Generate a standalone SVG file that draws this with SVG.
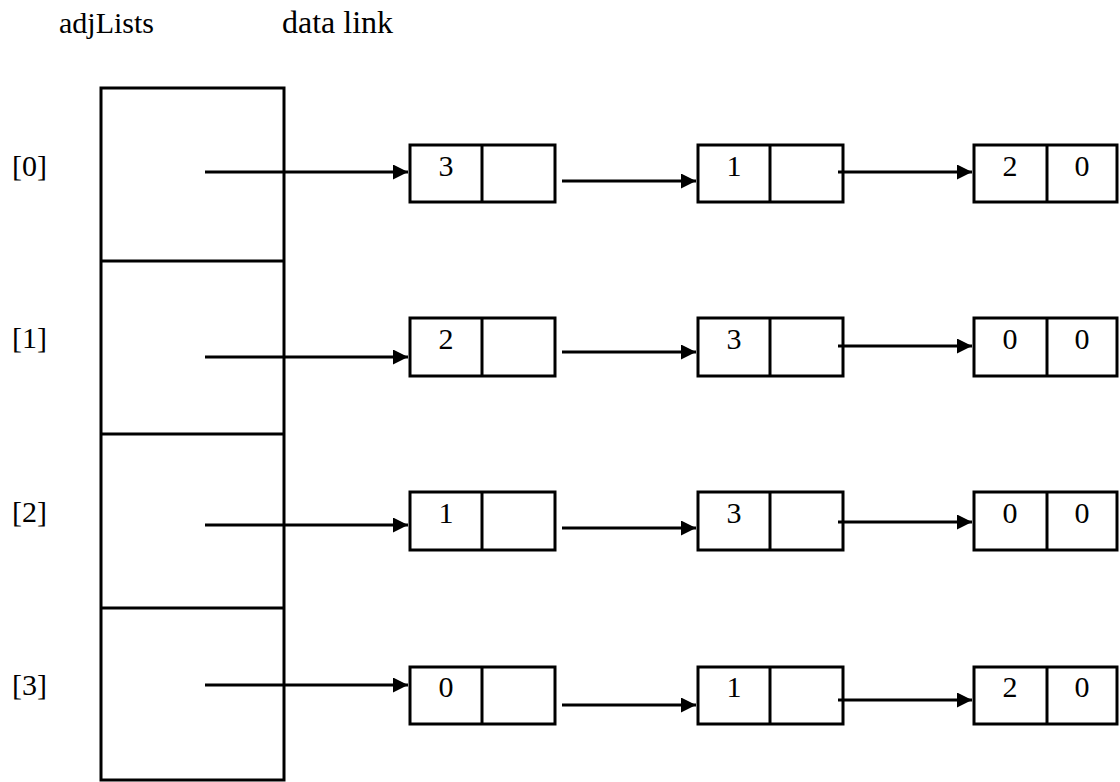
<svg xmlns="http://www.w3.org/2000/svg" width="1120" height="782" viewBox="0 0 1120 782">
<defs>
<style>
text{font-family:"Liberation Serif","Times New Roman",serif;font-size:30px;fill:#000}
.d{text-anchor:middle}
.b{fill:#fff;stroke:#000;stroke-width:3}
.l{stroke:#000;stroke-width:3;fill:none}
.a{stroke:#000;stroke-width:3;fill:none;marker-end:url(#ah)}
</style>
<marker id="ah" markerUnits="userSpaceOnUse" markerWidth="16" markerHeight="16" refX="15" refY="7.5" orient="auto">
<path d="M0,0 L15,7.5 L0,15 z" fill="#000"/>
</marker>
</defs>
<rect width="1120" height="782" fill="#fff"/>
<g id="headers">
<text x="59" y="33">adjLists</text>
<text x="282" y="33" style="font-size:32px">data link</text>
</g>
<g id="adjLists">
<rect class="b" x="101" y="88" width="183" height="692"/>
<line class="l" x1="101" y1="261" x2="284" y2="261"/>
<line class="l" x1="101" y1="434" x2="284" y2="434"/>
<line class="l" x1="101" y1="608" x2="284" y2="608"/>
<text x="12" y="176">[0]</text>
<text x="12" y="348">[1]</text>
<text x="12" y="522">[2]</text>
<text x="12" y="695">[3]</text>
</g>
<g id="row0">
<g id="n00"><rect class="b" x="410" y="145" width="145" height="57"/><line class="l" x1="482" y1="145" x2="482" y2="202"/><text class="d" x="446" y="176">3</text></g>
<g id="n01"><rect class="b" x="698" y="145" width="145" height="57"/><line class="l" x1="770" y1="145" x2="770" y2="202"/><text class="d" x="734" y="176">1</text></g>
<g id="n02"><rect class="b" x="974" y="145" width="143" height="57"/><line class="l" x1="1047" y1="145" x2="1047" y2="202"/><text class="d" x="1010" y="176">2</text><text class="d" x="1082" y="176">0</text></g>
</g>
<g id="row1">
<g id="n10"><rect class="b" x="410" y="318" width="145" height="58"/><line class="l" x1="482" y1="318" x2="482" y2="376"/><text class="d" x="446" y="349">2</text></g>
<g id="n11"><rect class="b" x="698" y="318" width="145" height="58"/><line class="l" x1="770" y1="318" x2="770" y2="376"/><text class="d" x="734" y="349">3</text></g>
<g id="n12"><rect class="b" x="974" y="318" width="143" height="58"/><line class="l" x1="1047" y1="318" x2="1047" y2="376"/><text class="d" x="1010" y="349">0</text><text class="d" x="1082" y="349">0</text></g>
</g>
<g id="row2">
<g id="n20"><rect class="b" x="410" y="492" width="145" height="58"/><line class="l" x1="482" y1="492" x2="482" y2="550"/><text class="d" x="446" y="523">1</text></g>
<g id="n21"><rect class="b" x="698" y="492" width="145" height="58"/><line class="l" x1="770" y1="492" x2="770" y2="550"/><text class="d" x="734" y="523">3</text></g>
<g id="n22"><rect class="b" x="974" y="492" width="143" height="58"/><line class="l" x1="1047" y1="492" x2="1047" y2="550"/><text class="d" x="1010" y="523">0</text><text class="d" x="1082" y="523">0</text></g>
</g>
<g id="row3">
<g id="n30"><rect class="b" x="410" y="667" width="145" height="57"/><line class="l" x1="482" y1="667" x2="482" y2="724"/><text class="d" x="446" y="697">0</text></g>
<g id="n31"><rect class="b" x="698" y="667" width="145" height="57"/><line class="l" x1="770" y1="667" x2="770" y2="724"/><text class="d" x="734" y="697">1</text></g>
<g id="n32"><rect class="b" x="974" y="667" width="143" height="57"/><line class="l" x1="1047" y1="667" x2="1047" y2="724"/><text class="d" x="1010" y="697">2</text><text class="d" x="1082" y="697">0</text></g>
</g>
<g id="connectors">
<line class="a" x1="205" y1="172" x2="408" y2="172"/>
<line class="a" x1="562" y1="181" x2="696" y2="181"/>
<line class="a" x1="838" y1="172" x2="972" y2="172"/>
<line class="a" x1="205" y1="357" x2="408" y2="357"/>
<line class="a" x1="562" y1="352" x2="696" y2="352"/>
<line class="a" x1="838" y1="346" x2="972" y2="346"/>
<line class="a" x1="205" y1="525" x2="408" y2="525"/>
<line class="a" x1="562" y1="528" x2="696" y2="528"/>
<line class="a" x1="838" y1="522" x2="972" y2="522"/>
<line class="a" x1="205" y1="685" x2="408" y2="685"/>
<line class="a" x1="562" y1="705" x2="696" y2="705"/>
<line class="a" x1="838" y1="700" x2="972" y2="700"/>
</g>
</svg>
